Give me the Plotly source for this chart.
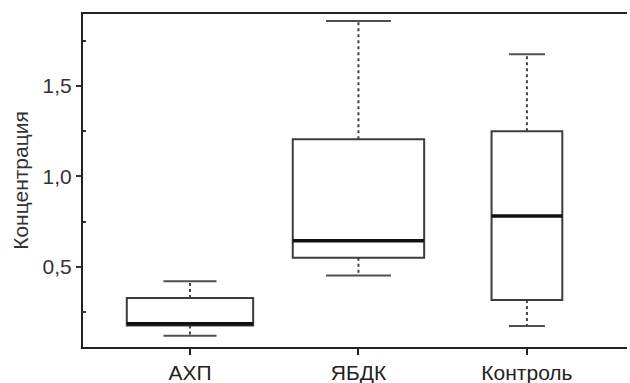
import plotly.graph_objects as go

categories = ["АХП", "ЯБДК", "Контроль"]
lower_whisker = [0.118, 0.452, 0.172]
q1_values = [0.175, 0.550, 0.316]
median_values = [0.185, 0.644, 0.780]
q3_values = [0.327, 1.205, 1.250]
upper_whisker = [0.420, 1.859, 1.675]

y_tick_vals = [0.5, 1.0, 1.5]
y_tick_text = ["0,5", "1,0", "1,5"]

# style (widths in x-axis units)
box_widths = [0.75, 0.78, 0.42]
cap_widths = [0.315, 0.386, 0.214]

FONT = "Liberation Sans, Arial, sans-serif"
BOX_COLOR = "#3c3c3c"

fig = go.Figure()
positions = list(range(len(categories)))

for i, pos in enumerate(positions):
    fig.add_trace(go.Box(
        x=[pos], q1=[q1_values[i]], median=[median_values[i]], q3=[q3_values[i]],
        lowerfence=[q1_values[i]], upperfence=[q3_values[i]],
        width=box_widths[i], whiskerwidth=0,
        fillcolor="white", line=dict(color=BOX_COLOR, width=2),
        boxpoints=False, hoverinfo="skip", showlegend=False,
    ))
    fig.add_trace(go.Scatter(
        x=[pos, pos, None, pos, pos],
        y=[q3_values[i], upper_whisker[i], None, q1_values[i], lower_whisker[i]],
        mode="lines", line=dict(color="#444444", width=2, dash="dot"),
        hoverinfo="skip", showlegend=False,
    ))
    cw = cap_widths[i] / 2
    fig.add_trace(go.Scatter(
        x=[pos - cw, pos + cw, None, pos - cw, pos + cw],
        y=[upper_whisker[i], upper_whisker[i], None, lower_whisker[i], lower_whisker[i]],
        mode="lines", line=dict(color="#505050", width=2),
        hoverinfo="skip", showlegend=False,
    ))
    bw = box_widths[i] / 2
    fig.add_trace(go.Scatter(
        x=[pos - bw, pos + bw], y=[median_values[i], median_values[i]],
        mode="lines", line=dict(color="#111111", width=3.5),
        hoverinfo="skip", showlegend=False,
    ))

fig.update_layout(
    width=630, height=383,
    margin=dict(l=83, r=3, t=14, b=36, autoexpand=False),
    paper_bgcolor="white", plot_bgcolor="white",
    font=dict(family=FONT, size=21, color="#222222"),
    separators=", ",
    showlegend=False,
)
fig.update_xaxes(
    range=[-0.635, 2.594],
    tickmode="array", tickvals=positions, ticktext=categories,
    ticks="outside", ticklen=6, tickwidth=2, tickcolor="#222222",
    showline=True, linecolor="#222222", linewidth=2, mirror=True,
    showgrid=False, zeroline=False,
    tickfont=dict(size=21, family=FONT, color="#222222"),
)
fig.update_yaxes(
    range=[0.056, 1.898],
    tickmode="array", tickvals=y_tick_vals, ticktext=y_tick_text,
    ticks="outside", ticklen=5, tickwidth=2, tickcolor="#333333",
    minor=dict(tickmode="array", tickvals=[0.25, 0.75, 1.25, 1.75], ticks="inside", ticklen=3, tickwidth=2, tickcolor="#333333"),
    showline=True, linecolor="#222222", linewidth=2, mirror=False,
    showgrid=False, zeroline=False,
    tickfont=dict(size=21, family=FONT, color="#333333"),
    title=dict(text="Концентрация", font=dict(size=21, family=FONT, color="#333333"), standoff=8),
)

fig.write_html("out.html", config={"displayModeBar": False, "staticPlot": True},
               post_script="document.body.style.margin='0';")
